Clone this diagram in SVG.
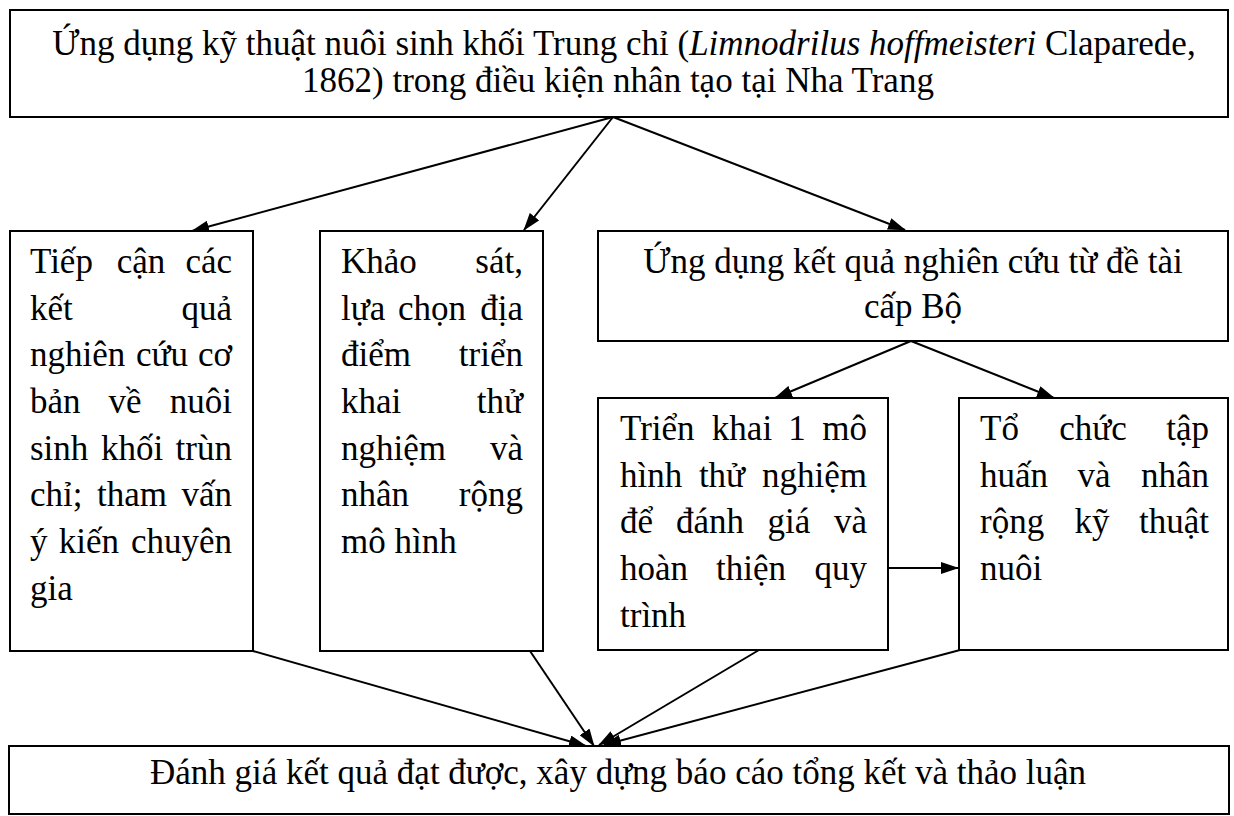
<svg xmlns="http://www.w3.org/2000/svg" width="1234" height="816" viewBox="0 0 1234 816">
<style>
.box{fill:#fff;stroke:#000;stroke-width:2}
.t{font-family:"Liberation Serif","Times New Roman",serif;font-size:35px;fill:#000}
.m{text-anchor:middle}
.e{text-anchor:end}
.c{stroke:#000;stroke-width:2;fill:none;marker-end:url(#ah)}
</style>
<defs>
<marker id="ah" markerWidth="18" markerHeight="12" refX="17" refY="6" orient="auto" markerUnits="userSpaceOnUse">
<path d="M0,0 L18,6 L0,12 Z" fill="#000"/>
</marker>
</defs>
<rect width="1234" height="816" fill="#fff"/>
<g id="connectors">
<line class="c" x1="613" y1="117" x2="192" y2="231"/>
<line class="c" x1="613" y1="117" x2="524" y2="230"/>
<line class="c" x1="613" y1="117" x2="905" y2="230"/>
<line class="c" x1="911" y1="341" x2="775" y2="398"/>
<line class="c" x1="911" y1="341" x2="1054" y2="398"/>
<line class="c" x1="888" y1="568" x2="958" y2="568"/>
<line class="c" x1="253" y1="651" x2="586" y2="746"/>
<line class="c" x1="530" y1="651" x2="594" y2="746"/>
<line class="c" x1="759" y1="650" x2="599" y2="745"/>
<line class="c" x1="960" y1="650" x2="604" y2="745"/>
</g>
<g id="top">
<rect class="box" x="10" y="10" width="1218" height="107"/>
<text class="t m" x="624" y="55">Ứng dụng kỹ thuật nuôi sinh khối Trung chỉ (<tspan font-style="italic">Limnodrilus hoffmeisteri</tspan> Claparede,</text>
<text class="t m" x="618" y="92">1862) trong điều kiện nhân tạo tại Nha Trang</text>
</g>
<g id="box1">
<rect class="box" x="10" y="231" width="243" height="420"/>
<text class="t" x="30" y="273">Tiếp</text><text class="t m" x="141" y="273">cận</text><text class="t e" x="232" y="273">các</text>
<text class="t" x="30" y="320">kết</text><text class="t e" x="232" y="320">quả</text>
<text class="t" x="30" y="366">nghiên</text><text class="t m" x="162" y="366">cứu</text><text class="t e" x="232" y="366">cơ</text>
<text class="t" x="30" y="413">bản</text><text class="t m" x="125" y="413">về</text><text class="t e" x="232" y="413">nuôi</text>
<text class="t" x="30" y="460">sinh</text><text class="t m" x="132" y="460">khối</text><text class="t e" x="232" y="460">trùn</text>
<text class="t" x="30" y="506">chỉ;</text><text class="t m" x="132" y="506">tham</text><text class="t e" x="232" y="506">vấn</text>
<text class="t" x="30" y="553">ý</text><text class="t m" x="89" y="553">kiến</text><text class="t e" x="232" y="553">chuyên</text>
<text class="t" x="30" y="600">gia</text>
</g>
<g id="box2">
<rect class="box" x="320" y="231" width="223" height="420"/>
<text class="t" x="341" y="273">Khảo</text><text class="t e" x="523" y="273">sát,</text>
<text class="t" x="341" y="320">lựa</text><text class="t m" x="432" y="320">chọn</text><text class="t e" x="523" y="320">địa</text>
<text class="t" x="341" y="366">điểm</text><text class="t e" x="523" y="366">triển</text>
<text class="t" x="341" y="413">khai</text><text class="t e" x="523" y="413">thử</text>
<text class="t" x="341" y="460">nghiệm</text><text class="t e" x="523" y="460">và</text>
<text class="t" x="341" y="506">nhân</text><text class="t e" x="523" y="506">rộng</text>
<text class="t" x="341" y="553">mô hình</text>
</g>
<g id="box3">
<rect class="box" x="598" y="231" width="630" height="110"/>
<text class="t m" x="913" y="273">Ứng dụng kết quả nghiên cứu từ đề tài</text>
<text class="t m" x="913" y="318">cấp Bộ</text>
</g>
<g id="box4">
<rect class="box" x="598" y="398" width="290" height="252"/>
<text class="t" x="620" y="440">Triển</text><text class="t m" x="742" y="440">khai</text><text class="t m" x="797" y="440">1</text><text class="t e" x="867" y="440">mô</text>
<text class="t" x="620" y="487">hình</text><text class="t m" x="722" y="487">thử</text><text class="t e" x="867" y="487">nghiệm</text>
<text class="t" x="620" y="533">để</text><text class="t m" x="710" y="533">đánh</text><text class="t m" x="789" y="533">giá</text><text class="t e" x="867" y="533">và</text>
<text class="t" x="620" y="580">hoàn</text><text class="t m" x="751" y="580">thiện</text><text class="t e" x="867" y="580">quy</text>
<text class="t" x="620" y="627">trình</text>
</g>
<g id="box5">
<rect class="box" x="959" y="398" width="269" height="252"/>
<text class="t" x="980" y="440">Tổ</text><text class="t m" x="1093" y="440">chức</text><text class="t e" x="1209" y="440">tập</text>
<text class="t" x="980" y="487">huấn</text><text class="t m" x="1094" y="487">và</text><text class="t e" x="1209" y="487">nhân</text>
<text class="t" x="980" y="533">rộng</text><text class="t m" x="1092" y="533">kỹ</text><text class="t e" x="1209" y="533">thuật</text>
<text class="t" x="980" y="580">nuôi</text>
</g>
<g id="bottom">
<rect class="box" x="9" y="746" width="1220" height="68"/>
<text class="t m" x="618" y="784">Đánh giá kết quả đạt được, xây dựng báo cáo tổng kết và thảo luận</text>
</g>
</svg>
